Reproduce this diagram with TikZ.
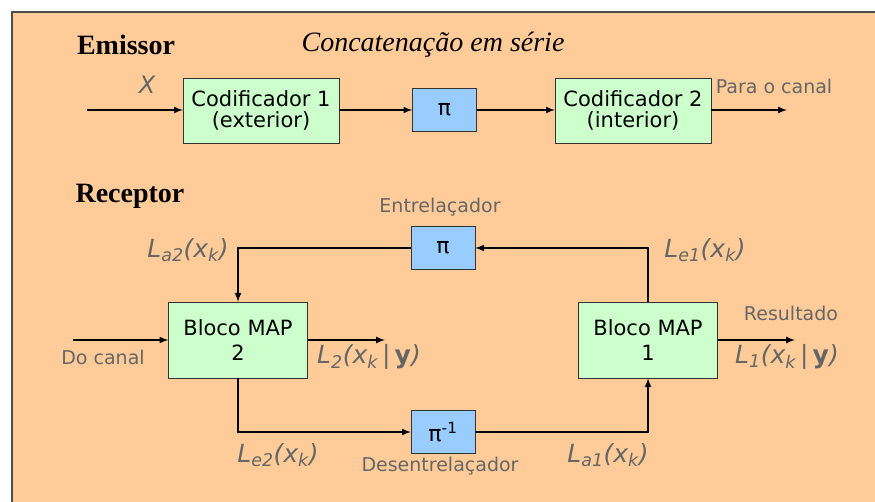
\documentclass[tikz,border=0pt]{standalone}
\usepackage{fontspec}
\setmainfont{DejaVu Sans}
\newfontfamily\serifbold{Liberation Serif Bold}
\newfontfamily\serifital{Liberation Serif Italic}
\definecolor{peach}{HTML}{FFCC99}
\definecolor{codgreen}{HTML}{CCFFCC}
\definecolor{piblue}{HTML}{99CCFF}
\definecolor{lblgray}{HTML}{666666}
\def\fsz#1{\fontsize{#1}{#1}\selectfont}
\def\Lab#1#2{\textit{L\textsubscript{#1}(x\textsubscript{k}#2)}}
\tikzset{
  codbox/.style={draw=black!80, fill=codgreen, inner sep=0pt, align=center,
    minimum width=156pt, minimum height=65pt, font=\fsz{21}},
  mapbox/.style={codbox, minimum width=139pt, minimum height=76pt},
  pibox/.style={draw=black!80, fill=piblue, inner sep=0pt,
    minimum width=64pt, minimum height=43pt, font=\fsz{22}},
  lbl/.style={text=lblgray, inner sep=0pt, font=\fsz{19}},
  mlbl/.style={text=lblgray, inner sep=0pt, font=\fsz{25}},
  flow/.style={line width=2pt, -latex}
}

\begin{document}
\begin{tikzpicture}[x=1pt,y=-1pt]
\clip (0,0) rectangle (875,502);
\fill[white] (0,0) rectangle (875,502);
\draw[fill=peach, draw=black!70, line width=1.2pt] (12,12) rectangle (890,520);
% emissor
\node (em) at (126,45) {\serifbold\fsz{28}Emissor};
\node (titulo) at (433,45) {\serifital\fsz{28}Concatenação em série};
\node (cod1) at (261,110.5) [codbox] {Codificador 1\\(exterior)};
\node (pi1) at (444.5,110) [pibox] {π};
\node (cod2) at (633,110.5) [codbox] {Codificador 2\\(interior)};
\coordinate (xin) at (87,110);
\coordinate (xout) at (787,110);
\draw[flow] (xin) -- (cod1.west |- xin);
\draw[flow] (cod1.east |- xin) -- (pi1.west);
\draw[flow] (pi1.east) -- (cod2.west |- xin);
\draw[flow] (cod2.east |- xin) -- (xout);
\node (lx) at (147,85) [mlbl, font=\fsz{24}\itshape] {X};
\node (lcanal) at (774,86) [lbl] {Para o canal};
% receptor
\node (rc) at (130,196) {\serifbold\fsz{28}Receptor};
\node (map2) at (238,340) [mapbox] {Bloco MAP\\[4pt]2};
\node (map1) at (648,340) [mapbox] {Bloco MAP\\[4pt]1};
\node (pi2) at (443,248) [pibox] {π};
\node (pi3) at (443,432) [pibox] {π\textsuperscript{-1}};
\coordinate (din) at (73,340);
\coordinate (out2) at (385,340);
\coordinate (out1) at (795,340);
\draw[flow] (map1.north) |- (pi2.east);
\draw[flow] (pi2.west) -| (map2.north);
\draw[flow] (map2.south) |- (pi3.west);
\draw[flow] (pi3.east) -| (map1.south);
\draw[flow] (din) -- (map2.west);
\draw[flow] (map2.east) -- (out2);
\draw[flow] (map1.east) -- (out1);
\node (lent) at (440,207) [lbl] {Entrelaçador};
\node (ldes) at (440,466) [lbl] {Desentrelaçador};
\node (lres) at (791,313) [lbl] {Resultado};
\node (ldo) at (103,357) [lbl] {Do canal};
\node (la2) at (188,250) [mlbl] {\Lab{a2}{}};
\node (le1) at (705,250) [mlbl] {\Lab{e1}{}};
\node (le2) at (278,455) [mlbl] {\Lab{e2}{}};
\node (la1) at (608,455) [mlbl] {\Lab{a1}{}};
\node (l2) at (369,357) [mlbl] {\Lab{2}{\,|\,\textup{\bfseries y}}};
\node (l1) at (787,357) [mlbl] {\Lab{1}{\,|\,\textup{\bfseries y}}};
\end{tikzpicture}
\end{document}
